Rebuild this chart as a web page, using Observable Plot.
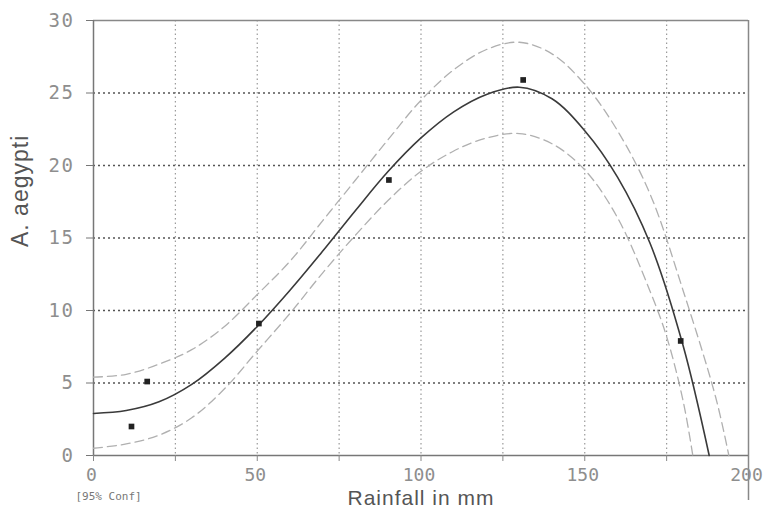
<!DOCTYPE html>
<html>
<head>
<meta charset="utf-8">
<script src="https://cdn.jsdelivr.net/npm/d3@7"></script>
<script src="https://cdn.jsdelivr.net/npm/@observablehq/plot@0.6"></script>
<style>
  html, body { margin: 0; padding: 0; background: #fff; }
  #chart svg { background: #fff; }
  .tky text { letter-spacing: 1.5px; }
  .lbl text { letter-spacing: 1px; }
</style>
</head>
<body>
<div id="chart"></div>
<script>
// Fitted curve
const fitX = [0,10,20,30,40,50,60,70,80,90,100,110,120,130,140,150,160,170,180,188];
const fitY = [2.9,3.1,3.7,4.9,6.7,8.9,11.4,14.1,16.9,19.6,21.9,23.7,24.9,25.4,24.6,22.4,19.2,14.6,7.6,0];
// Upper 95% confidence limit
const upX = [0,10,20,30,40,50,60,70,80,90,100,110,120,130,140,150,160,170,180,190,194];
const upY = [5.4,5.6,6.3,7.3,8.9,11.1,13.4,16.2,19.0,21.8,24.5,26.6,28.0,28.5,27.7,25.6,22.4,18.0,11.4,4.0,0];
// Lower 95% confidence limit
const loX = [0,10,20,30,40,50,60,70,80,90,100,110,120,130,140,150,160,170,175,180,183];
const loY = [0.5,0.8,1.4,2.6,4.6,7.2,9.8,12.6,15.2,17.6,19.6,21.0,21.9,22.2,21.5,19.7,16.4,11.3,8.2,3.8,0];
// Observed points
const ptX = [11.6, 16.4, 50.5, 90.2, 131.2, 179.3];
const ptY = [2.0, 5.1, 9.1, 19.0, 25.9, 7.9];
// Ticks / grid
const xTickLabels = [0, 50, 100, 150, 200];
const xTicks = [0, 25, 50, 75, 100, 125, 150, 175, 200];
const xGrid = [25, 50, 75, 100, 125, 150, 175];
const yTicks = [0, 5, 10, 15, 20, 25, 30];
const yGrid = [5, 10, 15, 20, 25];

const fit = fitX.map((x, i) => ({x, y: fitY[i]}));
const up = upX.map((x, i) => ({x, y: upY[i]}));
const lo = loX.map((x, i) => ({x, y: loY[i]}));
const pts = ptX.map((x, i) => ({x, y: ptY[i]}));

const tickFont = {fontFamily: "DejaVu Sans Mono", fill: "#8e8e8e"};

const chart = Plot.plot({
  width: 764,
  height: 514,
  marginLeft: 93,
  marginRight: 16,
  marginTop: 20,
  marginBottom: 59,
  style: {fontFamily: "Liberation Sans, Arial, sans-serif", background: "#fff"},
  x: {domain: [0, 200]},
  y: {domain: [0, 30]},
  marks: [
    // grid
    Plot.ruleX(xGrid, {stroke: "#9a9a9a", strokeWidth: 1.2, strokeDasharray: "1.5,3"}),
    Plot.ruleY(yGrid, {stroke: "#555", strokeWidth: 1.3, strokeDasharray: "2,3"}),
    // frame: top and right
    Plot.ruleY([30], {stroke: "#888", strokeWidth: 1.5}),
    Plot.ruleX([200], {y1: -3.1, y2: 30, stroke: "#888", strokeWidth: 1.5}),
    // axes lines
    Plot.ruleX([0], {stroke: "#777", strokeWidth: 1.5}),
    Plot.ruleY([0], {stroke: "#777", strokeWidth: 1.5}),
    // ticks
    Plot.axisY({ticks: yTicks, tickSize: 7, tickPadding: 12, stroke: "#777", label: null, fontSize: 19, className: "tky", ...tickFont}),
    Plot.axisX({ticks: xTicks, tickSize: 6, tickFormat: () => "", label: null, stroke: "#888"}),
    Plot.axisX({ticks: xTickLabels, tickSize: 0, tickPadding: 13, dx: -2, label: null, fontSize: 18, ...tickFont}),
    // confidence bands
    Plot.line(up, {x: "x", y: "y", curve: "catmull-rom", stroke: "#b0b0b0", strokeWidth: 1.3, strokeDasharray: "9,5"}),
    Plot.line(lo, {x: "x", y: "y", curve: "catmull-rom", stroke: "#b0b0b0", strokeWidth: 1.3, strokeDasharray: "9,5"}),
    // fitted curve
    Plot.line(fit, {x: "x", y: "y", curve: "catmull-rom", stroke: "#3a3a3a", strokeWidth: 1.6}),
    // points
    Plot.dot(pts, {x: "x", y: "y", symbol: "square", r: 3.2, fill: "#222", stroke: "none"}),
    // labels
    Plot.text(["A. aegypti"], {frameAnchor: "left", rotate: -90, dx: -73, dy: 9, fontSize: 23, fill: "#555", className: "lbl"}),
    Plot.text(["Rainfall in mm"], {frameAnchor: "bottom", dy: 49, fontSize: 21, fill: "#555", className: "lbl"}),
    Plot.text(["[95% Conf]"], {frameAnchor: "bottom-left", textAnchor: "start", dx: -18, dy: 44, fontSize: 11, fill: "#777", fontFamily: "DejaVu Sans Mono"})
  ]
});
document.getElementById("chart").appendChild(chart);
</script>
</body>
</html>
